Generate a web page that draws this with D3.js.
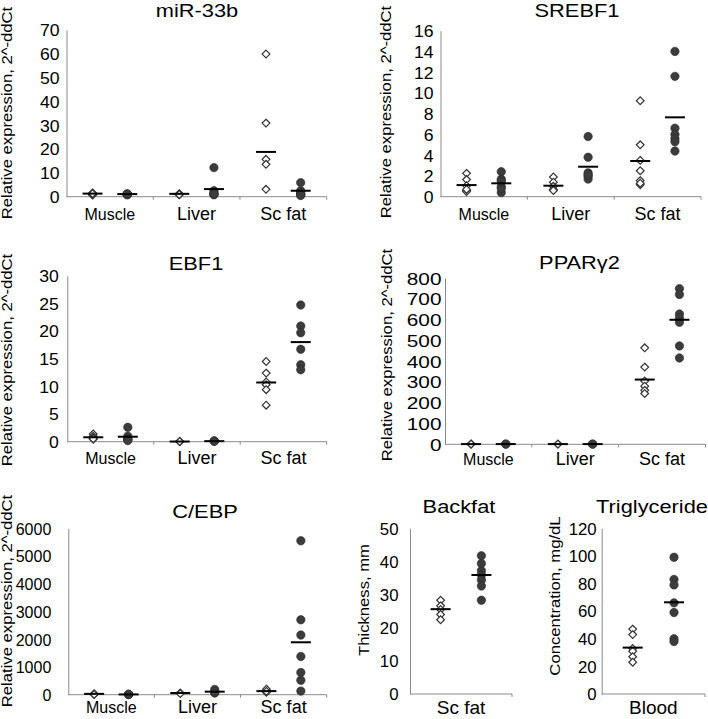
<!DOCTYPE html>
<html><head><meta charset="utf-8">
<script src="https://cdn.jsdelivr.net/npm/d3@7"></script>
<style>
body{margin:0;background:#fff}
svg{display:block}
text{font-family:"Liberation Sans",Arial,Helvetica,sans-serif;fill:#000}
</style>
</head><body>
<svg id="chart" width="708" height="719"></svg>
<script>
// ---------------- data ----------------
const tissues = ["Muscle", "Liver", "Sc fat"];
const backfatCats = ["Sc fat"];
const bloodCats = ["Blood"];
const yLabelExpr = "Relative expression, 2^-ddCt";

// miR-33b
const mir33bOpen   = [[1.6, 1.2, 0.9, 0.7, 1.0, 1.3], [1.2, 1.0, 0.8, 1.1, 0.9], [59.9, 30.9, 15.7, 13.6, 3.1]];
const mir33bFilled = [[1.2, 1.0, 0.8, 0.9, 1.1], [12.2, 2.5, 1.5, 1.0, 0.8, 1.2], [5.9, 2.5, 1.5, 1.0, 0.8, 0.5]];
const mir33bOpenMean   = [1.3, 1.2, 18.8];
const mir33bFilledMean = [1.1, 3.2, 2.5];
const mir33bTicks = [0, 10, 20, 30, 40, 50, 60, 70];

// SREBF1
const srebf1Open   = [[2.25, 1.65, 1.05, 0.58, 0.5, 0.7], [1.9, 1.4, 1.0, 0.7, 0.6], [9.25, 5.0, 3.5, 2.5, 1.55, 1.15, 1.3]];
const srebf1Filled = [[2.41, 1.68, 0.96, 0.39, 0.8, 1.5], [5.8, 3.8, 2.3, 2.0, 1.7, 2.1], [14.0, 11.6, 6.6, 6.0, 5.6, 5.3, 4.4]];
const srebf1OpenMean   = [1.12, 1.06, 3.44];
const srebf1FilledMean = [1.29, 2.89, 7.65];
const srebf1Ticks = [0, 2, 4, 6, 8, 10, 12, 14, 16];

// EBF1
const ebf1Open   = [[1.4, 1.0, 0.7, 0.6, 0.5, 0.5], [0.05, 0.02, 0.03], [14.5, 12.4, 10.8, 10.3, 9.4, 6.6]];
const ebf1Filled = [[2.6, 1.0, 0.5, 0.5, 0.4, 0.2], [0.15, 0.1, 0.08], [24.7, 20.9, 19.7, 16.7, 13.9, 13.0]];
const ebf1OpenMean   = [0.8, 0.03, 10.7];
const ebf1FilledMean = [0.9, 0.1, 18.0];
const ebf1Ticks = [0, 5, 10, 15, 20, 25, 30];

// PPARγ2
const pparOpen   = [[1, 1, 1], [1, 1], [465, 372, 305, 280, 260, 245]];
const pparFilled = [[1, 1], [1, 1], [750, 722, 628, 608, 588, 474, 416]];
const pparOpenMean   = [1, 1, 312];
const pparFilledMean = [1, 1, 600];
const pparTicks = [0, 100, 200, 300, 400, 500, 600, 700, 800];

// C/EBP
const cebpOpen   = [[35, 20, 10], [60, 40], [200, 90, 120]];
const cebpFilled = [[10, 15, 5], [190, 60, 100], [5550, 2700, 2150, 1380, 800, 520, 130]];
const cebpOpenMean   = [30, 60, 130];
const cebpFilledMean = [10, 110, 1890];
const cebpTicks = [0, 1000, 2000, 3000, 4000, 5000, 6000];

// Backfat
const backfatOpen   = [[28.3, 26.6, 25.5, 24.0, 22.4]];
const backfatFilled = [[41.7, 39.4, 37.2, 35.9, 34.4, 32.6, 28.3]];
const backfatOpenMean   = [25.6];
const backfatFilledMean = [35.9];
const backfatTicks = [0, 10, 20, 30, 40, 50];

// Triglyceride
const tgOpen   = [[47, 43, 33, 31, 27, 23]];
const tgFilled = [[99, 83, 79, 66, 59, 40, 38]];
const tgOpenMean   = [33.6];
const tgFilledMean = [66.4];
const tgTicks = [0, 20, 40, 60, 80, 100, 120];

// ---------------- layout ----------------
const panels = [
  {title: "miR-33b", cats: tissues, open: mir33bOpen, filled: mir33bFilled, openMean: mir33bOpenMean, filledMean: mir33bFilledMean, ticks: mir33bTicks, ylabel: yLabelExpr,
   box: {x0: 66.5, x1: 326.7, yTop: 30, y0: 196.7}, tPos: [197, 17], yl: [12, 113], catY: 219.5, pad: 7, tsx: 1.1},
  {title: "SREBF1", cats: tissues, open: srebf1Open, filled: srebf1Filled, openMean: srebf1OpenMean, filledMean: srebf1FilledMean, ticks: srebf1Ticks, ylabel: yLabelExpr,
   box: {x0: 440.5, x1: 701, yTop: 30.7, y0: 196.7}, tPos: [577, 17], yl: [390.5, 112], catY: 219.5, pad: 7, tsx: 1.1},
  {title: "EBF1", cats: tissues, open: ebf1Open, filled: ebf1Filled, openMean: ebf1OpenMean, filledMean: ebf1FilledMean, ticks: ebf1Ticks, ylabel: yLabelExpr,
   box: {x0: 67.3, x1: 326.7, yTop: 275.7, y0: 441.7}, tPos: [196, 270], yl: [12, 360], catY: 464, pad: 8.5, tsx: 1.1},
  {title: "PPARγ2", cats: tissues, open: pparOpen, filled: pparFilled, openMean: pparOpenMean, filledMean: pparFilledMean, ticks: pparTicks, ylabel: yLabelExpr,
   box: {x0: 445, x1: 705.5, yTop: 278.3, y0: 444.3}, tPos: [579.5, 269], yl: [391.5, 355], catY: 465, pad: 3.5, tsx: 1.3},
  {title: "C/EBP", cats: tissues, open: cebpOpen, filled: cebpFilled, openMean: cebpOpenMean, filledMean: cebpFilledMean, ticks: cebpTicks, ylabel: yLabelExpr,
   box: {x0: 68.3, x1: 326.7, yTop: 528.3, y0: 694.7}, tPos: [205, 518], yl: [12, 601], catY: 713, pad: 17, tsx: 1.0},
  {title: "Backfat", cats: backfatCats, open: backfatOpen, filled: backfatFilled, openMean: backfatOpenMean, filledMean: backfatFilledMean, ticks: backfatTicks, ylabel: "Thickness, mm",
   box: {x0: 410, x1: 512, yTop: 528.3, y0: 694}, tPos: [459, 513], yl: [368.5, 600], catY: 714, pad: 11.5, tsx: 1.05},
  {title: "Triglyceride", cats: bloodCats, open: tgOpen, filled: tgFilled, openMean: tgOpenMean, filledMean: tgFilledMean, ticks: tgTicks, ylabel: "Concentration, mg/dL",
   box: {x0: 601.7, x1: 705, yTop: 528.3, y0: 694}, tPos: [652, 513], yl: [559.5, 596], catY: 714, pad: 5, tsx: 1.05}
];

const svg = d3.select("#chart");
const axisColor = "#8a8a8a";
const dotColor = "#3c3c3c";

function stretchedText(g, str, x, y, size, sx, anchor, rot) {
  return g.append("text")
    .attr("transform", `translate(${x},${y})` + (rot ? ` rotate(${rot})` : "") + ` scale(${sx},1)`)
    .attr("text-anchor", anchor)
    .style("font-size", size + "px")
    .text(str);
}

panels.forEach(p => {
  const b = p.box;
  const g = svg.append("g");
  const x = d3.scaleBand().domain(p.cats).range([b.x0, b.x1]);
  const y = d3.scaleLinear().domain([0, d3.max(p.ticks)]).range([b.y0, b.yTop]);
  const off = x.bandwidth() * 0.2;
  const single = p.cats.length === 1;

  // y axis (line + labels, no tick marks)
  const yAxis = d3.axisLeft(y).tickValues(p.ticks).tickSize(0).tickPadding(0).tickFormat(d3.format("d"));
  const ya = g.append("g").attr("transform", `translate(${b.x0},0)`).call(yAxis);
  ya.select(".domain").attr("stroke", axisColor).attr("stroke-width", 1);
  ya.selectAll(".tick text").remove();
  ya.selectAll(".tick").each(function(d) {
    stretchedText(d3.select(this), d3.format("d")(d), -p.pad, 5.8, 16, p.tsx, "end", 0);
  });

  // x axis line with boundary ticks
  g.append("line").attr("x1", b.x0).attr("x2", b.x1).attr("y1", b.y0).attr("y2", b.y0)
    .attr("stroke", axisColor).attr("stroke-width", 1);
  const bounds = p.cats.map(c => x(c)).concat([b.x1]).slice(1);
  g.selectAll(".xt").data(bounds).join("line")
    .attr("x1", d => d).attr("x2", d => d).attr("y1", b.y0).attr("y2", b.y0 + 3)
    .attr("stroke", axisColor).attr("stroke-width", 1);

  // category labels
  p.cats.forEach(c => {
    const size = single ? 19 : (c === "Muscle" ? 16 : 18);
    stretchedText(g, c, x(c) + x.bandwidth() / 2, p.catY, size, 1, "middle", 0);
  });

  // title
  stretchedText(g, p.title, p.tPos[0], p.tPos[1], 18.5, 1.18, "middle", 0);

  // y label
  stretchedText(g, p.ylabel, p.yl[0], p.yl[1], 14.5, 1.15, "middle", -90);

  // points
  p.cats.forEach((c, i) => {
    const cx = x(c) + x.bandwidth() / 2;
    const xo = cx - off, xf = cx + off;
    // open diamonds
    g.selectAll(null).data(p.open[i]).join("path")
      .attr("d", d3.symbol(d3.symbolDiamond2, 38))
      .attr("transform", d => `translate(${xo},${y(d)})`)
      .attr("fill", "#fff").attr("stroke", "#333").attr("stroke-width", 1.2);
    // filled circles
    g.selectAll(null).data(p.filled[i]).join("circle")
      .attr("cx", xf).attr("cy", d => y(d)).attr("r", 4.2)
      .attr("fill", dotColor).attr("stroke", "#2a2a2a").attr("stroke-width", 0.6);
    // means
    g.append("line").attr("x1", xo - 10).attr("x2", xo + 10)
      .attr("y1", y(p.openMean[i])).attr("y2", y(p.openMean[i]))
      .attr("stroke", "#000").attr("stroke-width", 2);
    g.append("line").attr("x1", xf - 10).attr("x2", xf + 10)
      .attr("y1", y(p.filledMean[i])).attr("y2", y(p.filledMean[i]))
      .attr("stroke", "#000").attr("stroke-width", 2);
  });
});
</script>
</body></html>
